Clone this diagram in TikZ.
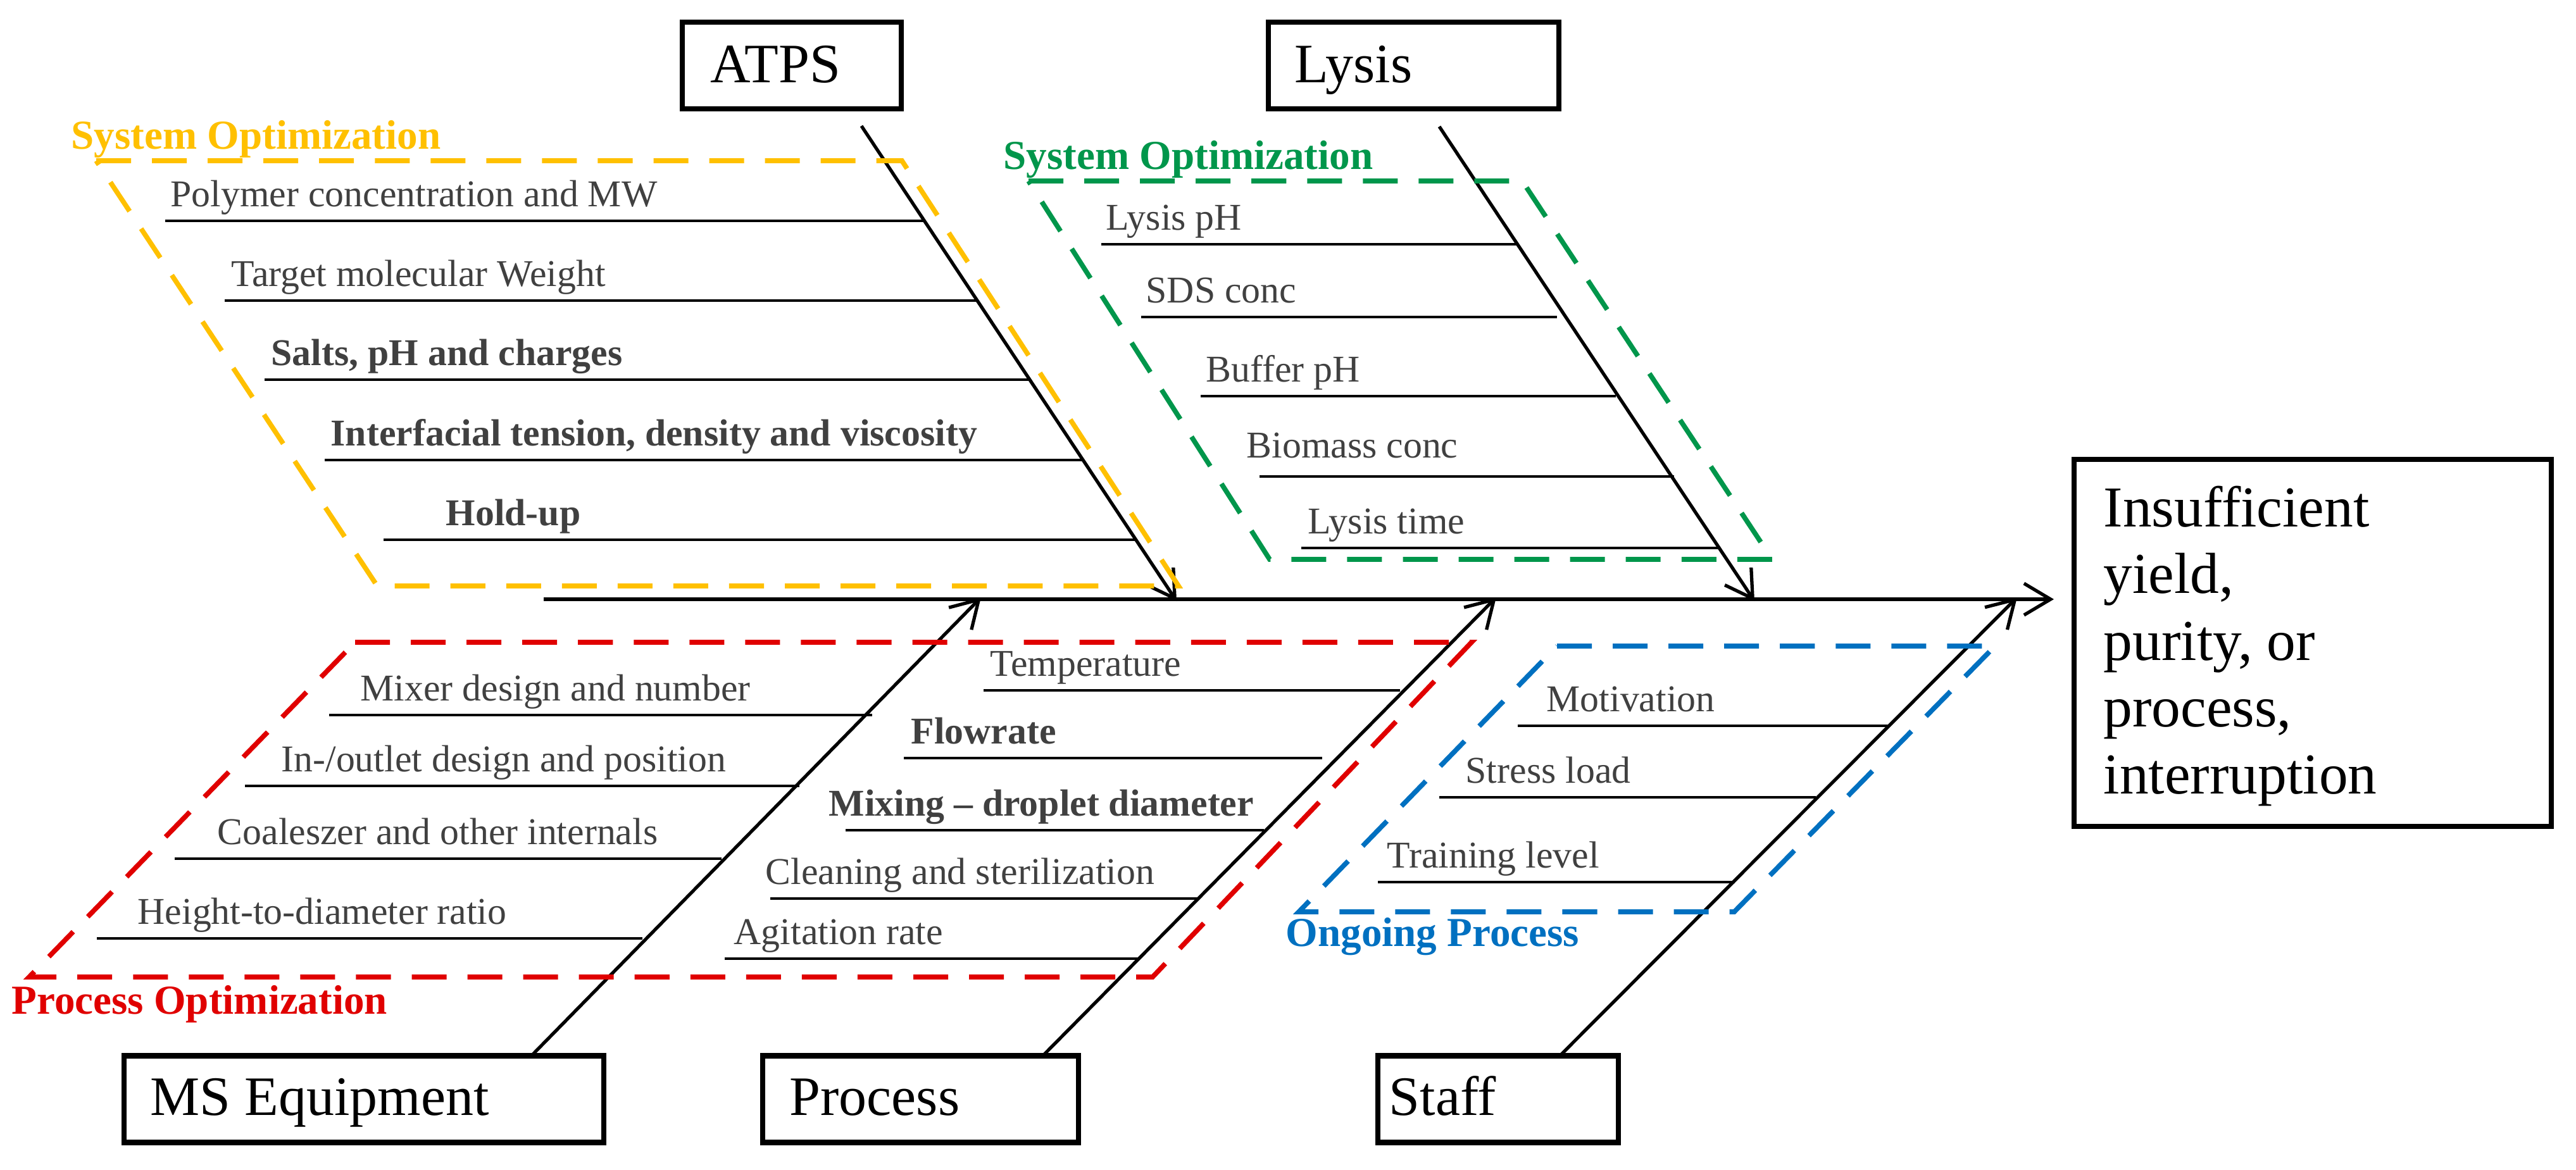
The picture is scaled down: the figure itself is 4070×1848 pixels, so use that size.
\documentclass[tikz,border=0pt]{standalone}
\usepackage{fontspec}
\setmainfont{Liberation Serif}
\usetikzlibrary{arrows.meta}
\definecolor{yel}{HTML}{FFC000}
\definecolor{grn}{HTML}{00964B}
\definecolor{rd}{HTML}{E00000}
\definecolor{blu}{HTML}{0070C0}
\definecolor{txt}{HTML}{404040}
\begin{document}
\begin{tikzpicture}[x=0.01cm,y=-0.01cm,
  box/.style={draw,line width=2.4pt,minimum width=#1,minimum height=1.37cm,inner sep=0pt},
  boxlbl/.style={anchor=base west,font=\fontsize{25}{30}\selectfont,inner sep=0pt},
  item/.style={anchor=base west,text=txt,font=\fontsize{17}{20}\selectfont,inner sep=0pt},
  bitem/.style={item,font=\fontsize{17}{20}\selectfont\bfseries},
  hl/.style={line width=1.2pt},
  bone/.style={line width=1.5pt,-{Straight Barb[length=0.42cm,width=0.5cm,line width=1.5pt]}},
  grp/.style={line width=2.2pt,dash pattern=on 0.55cm off 0.33cm},
  cat/.style={anchor=base west,font=\fontsize{18.5}{22}\selectfont\bfseries,inner sep=0pt}]
\useasboundingbox (0,0) rectangle (4070,1848);
% boxes
\node[box=3.46cm] (atps) at (1251,103.5) {};
\node[boxlbl] (atpsT) at (1122,130) {ATPS};
\node[box=4.59cm] (lysis) at (2233.5,103.5) {};
\node[boxlbl] (lysisT) at (2045,130) {Lysis};
\node[box=7.58cm] (ms) at (575,1737) {};
\node[boxlbl] (msT) at (237,1762) {MS Equipment};
\node[box=4.99cm] (proc) at (1454.5,1737) {};
\node[boxlbl] (procT) at (1247,1762) {Process};
\node[box=3.80cm] (staff) at (2367,1737) {};
\node[boxlbl] (staffT) at (2194,1762) {Staff};
\node[draw,line width=2.4pt,minimum width=7.54cm,minimum height=5.8cm,inner sep=0pt] (eff) at (3654,1016) {};
\node[anchor=base west,font=\fontsize{26}{30}\selectfont,inner sep=0pt,align=left] (effT) at (3323,1254)
  {Insufficient\\ yield,\\ purity, or\\ process,\\ interruption};
% spine
\coordinate (sp0) at (859,947);
\coordinate (sp1) at (3245,947);
\draw[bone] (sp0) -- (sp1);
% bones
\coordinate (a0) at (1361,199); \coordinate (a1) at (1859,950);
\coordinate (l0) at (2274,200); \coordinate (l1) at (2772,950);
\coordinate (m0) at (842,1666); \coordinate (m1) at (1550,944);
\coordinate (p0) at (1650,1666); \coordinate (p1) at (2364,944);
\coordinate (s0) at (2467,1666); \coordinate (s1) at (3187,944);
\draw[bone] (a0) -- (a1);
\draw[bone] (l0) -- (l1);
\draw[bone] (m0) -- (m1);
\draw[bone] (p0) -- (p1);
\draw[bone] (s0) -- (s1);
% group frames
\draw[grp,yel] (152,254) -- (1425,254) -- (1862,926) -- (596,926) -- cycle;
\node[cat,text=yel] (yc) at (112,235) {System Optimization};
\draw[grp,grn] (1625,286) -- (2405,286) -- (2800,884) -- (2006,884) -- cycle;
\node[cat,text=grn] (gc) at (1585,267) {System Optimization};
\draw[grp,rd] (561,1015) -- (2325,1015) -- (1821,1544) -- (46,1544) -- cycle;
\node[cat,text=rd] (rc) at (18,1602) {Process Optimization};
\draw[grp,blu] (2460,1021) -- (3152,1021) -- (2740,1441) -- (2052,1441) -- cycle;
\node[cat,text=blu] (bc) at (2031,1495) {Ongoing Process};
% ATPS items
\coordinate (ya1) at (261,349); \coordinate (yb1) at (1459,349);
\coordinate (ya2) at (355,475); \coordinate (yb2) at (1543,475);
\coordinate (ya3) at (418,600); \coordinate (yb3) at (1625,600);
\coordinate (ya4) at (513,727); \coordinate (yb4) at (1710,727);
\coordinate (ya5) at (606,853); \coordinate (yb5) at (1793,853);
\foreach \i in {1,...,5} \draw[hl] (ya\i) -- (yb\i);
\node[item] (t1) at (269,326) {Polymer concentration and MW};
\node[item] (t2) at (365,452) {Target molecular Weight};
\node[bitem] (t3) at (428,577) {Salts, pH and charges};
\node[bitem] (t4) at (522,704) {Interfacial tension, density and viscosity};
\node[bitem] (t5) at (704,830) {Hold-up};
% Lysis items
\coordinate (ga1) at (1740,386); \coordinate (gb1) at (2398,386);
\coordinate (ga2) at (1803,501); \coordinate (gb2) at (2460,501);
\coordinate (ga3) at (1897,626); \coordinate (gb3) at (2553,626);
\coordinate (ga4) at (1990,753); \coordinate (gb4) at (2645,753);
\coordinate (ga5) at (2056,866); \coordinate (gb5) at (2717,866);
\foreach \i in {1,...,5} \draw[hl] (ga\i) -- (gb\i);
\node[item] (g1) at (1747,363) {Lysis pH};
\node[item] (g2) at (1810,478) {SDS conc};
\node[item] (g3) at (1905,603) {Buffer pH};
\node[item] (g4) at (1969,723) {Biomass conc};
\node[item] (g5) at (2066,843) {Lysis time};
% MS items
\coordinate (ra1) at (520,1130); \coordinate (rb1) at (1378,1130);
\coordinate (ra2) at (387,1242); \coordinate (rb2) at (1263,1242);
\coordinate (ra3) at (276,1357); \coordinate (rb3) at (1140,1357);
\coordinate (ra4) at (153,1483); \coordinate (rb4) at (1015,1483);
\foreach \i in {1,...,4} \draw[hl] (ra\i) -- (rb\i);
\node[item] (r1) at (569,1107) {Mixer design and number};
\node[item] (r2) at (444,1219) {In-/outlet design and position};
\node[item] (r3) at (343,1334) {Coaleszer and other internals};
\node[item] (r4) at (217,1460) {Height-to-diameter ratio};
% Process items
\coordinate (pa1) at (1554,1091); \coordinate (pb1) at (2212,1091);
\coordinate (pa2) at (1428,1198); \coordinate (pb2) at (2089,1198);
\coordinate (pa3) at (1336,1312); \coordinate (pb3) at (1997,1312);
\coordinate (pa4) at (1217,1420); \coordinate (pb4) at (1895,1420);
\coordinate (pa5) at (1145,1515); \coordinate (pb5) at (1798,1515);
\foreach \i in {1,...,5} \draw[hl] (pa\i) -- (pb\i);
\node[item] (q1) at (1564,1068) {Temperature};
\node[bitem] (q2) at (1439,1175) {Flowrate};
\node[bitem] (q3) at (1309,1289) {Mixing – droplet diameter};
\node[item] (q4) at (1209,1397) {Cleaning and sterilization};
\node[item] (q5) at (1159,1492) {Agitation rate};
% Staff items
\coordinate (sa1) at (2398,1147); \coordinate (sb1) at (2986,1147);
\coordinate (sa2) at (2274,1260); \coordinate (sb2) at (2869,1260);
\coordinate (sa3) at (2177,1394); \coordinate (sb3) at (2741,1394);
\foreach \i in {1,...,3} \draw[hl] (sa\i) -- (sb\i);
\node[item] (u1) at (2443,1124) {Motivation};
\node[item] (u2) at (2315,1237) {Stress load};
\node[item] (u3) at (2191,1371) {Training level};
\end{tikzpicture}
\end{document}
